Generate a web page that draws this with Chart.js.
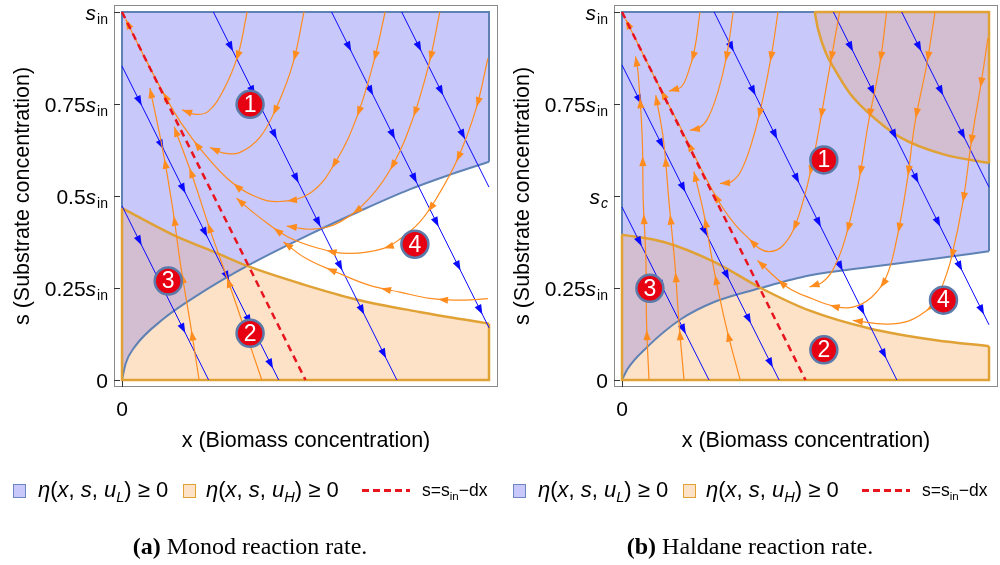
<!DOCTYPE html>
<html lang="en">
<head>
<meta charset="UTF-8">
<title>Operating regions: Monod and Haldane reaction rates</title>
<script src="https://cdn.jsdelivr.net/npm/chart.js"></script>
<style>
  body { margin: 0; background: #fff; }
  .page { position: relative; width: 1000px; height: 565px; font-family: "Liberation Sans", Arial, sans-serif; color: #000; }
  canvas { position: absolute; top: 0; }
  .legend { position: absolute; top: 0; width: 500px; height: 565px; }
  .legend span { position: absolute; white-space: nowrap; }
  .sw { top: 484px; width: 11px; height: 12px; }
  .sw.blue { background: #c8c8fa; border: 1px solid #6f86c4; }
  .sw.orange { background: #fde2c8; border: 1px solid #e0a135; }
  .lt { top: 477px; font-size: 22px; line-height: 25px; }
  .dash { top: 489px; left: 362px; width: 48px; height: 2.5px;
          background: repeating-linear-gradient(90deg, #e8141e 0 7px, transparent 7px 11px); }
  .ft { top: 480px; left: 422px; font-size: 17.5px; line-height: 20px; }
  sub { font-size: 0.66em; vertical-align: -0.32em; line-height: 0; }
  .cap { position: absolute; top: 533px; width: 500px; text-align: center;
         font: 24px "Liberation Serif", "Times New Roman", serif; }
</style>
</head>
<body>
<div class="page">
  <canvas id="monod" width="500" height="465" style="left:0"></canvas>
  <canvas id="haldane" width="500" height="465" style="left:500px"></canvas>

  <div class="legend" style="left:0">
    <span class="sw blue" style="left:13px"></span>
    <span class="lt" style="left:38px"><i>η</i>(<i>x</i>, <i>s</i>, <i>u</i><sub><i>L</i></sub>) ≥ 0</span>
    <span class="sw orange" style="left:183px"></span>
    <span class="lt" style="left:206px"><i>η</i>(<i>x</i>, <i>s</i>, <i>u</i><sub><i>H</i></sub>) ≥ 0</span>
    <span class="dash"></span>
    <span class="ft">s=s<sub>in</sub>−dx</span>
  </div>
  <div class="legend" style="left:500px">
    <span class="sw blue" style="left:13px"></span>
    <span class="lt" style="left:38px"><i>η</i>(<i>x</i>, <i>s</i>, <i>u</i><sub><i>L</i></sub>) ≥ 0</span>
    <span class="sw orange" style="left:183px"></span>
    <span class="lt" style="left:206px"><i>η</i>(<i>x</i>, <i>s</i>, <i>u</i><sub><i>H</i></sub>) ≥ 0</span>
    <span class="dash"></span>
    <span class="ft">s=s<sub>in</sub>−dx</span>
  </div>

  <div class="cap" style="left:0"><b>(a)</b> Monod reaction rate.</div>
  <div class="cap" style="left:500px"><b>(b)</b> Haldane reaction rate.</div>
</div>

<script>
    // s axis, in units of s_in
    var sTicks = [0, 0.25, 0.5, 0.75, 1];
    var xTicks = [0];
    var monodTickText = [['0', '', ''], ['0.25', 's', 'in'], ['0.5', 's', 'in'], ['0.75', 's', 'in'], ['', 's', 'in']];
    var haldaneTickText = [['0', '', ''], ['0.25', 's', 'in'], ['', 's', 'c'], ['0.75', 's', 'in'], ['', 's', 'in']];

    // s = s_in - d x  (d = 2 in these units)
    var feedLine = [[0, 1], [0.5, 0]];

    // ---------- Monod ----------
    var monodBlueEdge = [[0, 0], [0.01, 0.045], [0.033, 0.088], [0.114, 0.167], [0.205, 0.23], [0.341, 0.31],
        [0.51, 0.395], [0.65, 0.46], [0.784, 0.518], [0.9, 0.56], [1, 0.593]];
    var monodOrangeEdge = [[0, 0.467], [0.142, 0.393], [0.251, 0.348], [0.341, 0.31], [0.493, 0.26],
        [0.638, 0.219], [0.811, 0.185], [1, 0.153]];
    var monodBlueFrame = [[[1, 0.593], [1, 1], [0, 1], [0, 0.467]]];
    var monodOrangeFrame = [[[0, 0.467], [0, 0], [1, 0], [1, 0.153]]];

    var monodBlueLines = [
        [[0, 0.473], [0.236, 0]],
        [[0, 0.853], [0.427, 0]],
        [[0.249, 1], [0.749, 0]],
        [[0.571, 1], [1, 0.142]],
        [[0.762, 1], [1, 0.524]]
    ];
    var monodOrangePaths = [
        [[0.341, 1], [0.315, 0.88], [0.275, 0.785], [0.235, 0.73], [0.2, 0.722], [0.164, 0.734]],
        [[0.496, 1], [0.466, 0.861], [0.425, 0.75], [0.376, 0.66], [0.32, 0.618], [0.275, 0.617], [0.24, 0.632]],
        [[0.717, 1], [0.685, 0.861], [0.64, 0.715], [0.585, 0.598], [0.517, 0.511], [0.43, 0.485], [0.36, 0.5],
            [0.29, 0.545], [0.22, 0.62], [0.16, 0.7], [0.11, 0.785], [0.06, 0.88], [0.01, 0.98]],
        [[0.866, 1], [0.836, 0.857], [0.793, 0.712], [0.738, 0.584], [0.675, 0.495], [0.593, 0.429],
            [0.52, 0.41], [0.449, 0.418]],
        [[0.997, 0.874], [0.965, 0.738], [0.915, 0.602], [0.857, 0.494], [0.811, 0.429], [0.76, 0.385],
            [0.711, 0.357], [0.62, 0.344], [0.535, 0.358], [0.45, 0.39], [0.372, 0.444], [0.312, 0.494]],
        [[0.997, 0.221], [0.929, 0.217], [0.838, 0.222], [0.757, 0.239], [0.675, 0.257], [0.584, 0.293],
            [0.502, 0.33], [0.44, 0.375]],
        [[0.21, 0], [0.187, 0.148], [0.16, 0.31], [0.137, 0.474], [0.11, 0.63], [0.076, 0.793]],
        [[0.381, 0], [0.33, 0.15], [0.29, 0.267], [0.24, 0.408], [0.192, 0.553], [0.142, 0.688]]
    ];
    var monodTags = [[0.349, 0.749, '1'], [0.349, 0.127, '2'], [0.126, 0.269, '3'], [0.798, 0.369, '4']];

    // ---------- Haldane ----------
    var haldaneBlueEdge = [[0, 0], [0.015, 0.03], [0.069, 0.09], [0.16, 0.165], [0.251, 0.212], [0.378, 0.25],
        [0.51, 0.284], [0.675, 0.307], [0.856, 0.33], [1, 0.35]];
    var haldaneOrangeEdge = [[0, 0.395], [0.114, 0.375], [0.251, 0.321], [0.378, 0.25], [0.51, 0.189],
        [0.675, 0.14], [0.856, 0.108], [1, 0.092]];
    var haldaneTopEdge = [[0.525, 1], [0.535, 0.95], [0.555, 0.89], [0.576, 0.85], [0.62, 0.78], [0.667, 0.73],
        [0.757, 0.66], [0.876, 0.613], [1, 0.59]];
    var haldaneBlueFrame = [[[1, 0.35], [1, 0.59]], [[0.525, 1], [0, 1], [0, 0.395]]];
    var haldaneOrangeFrame = [[[0, 0.395], [0, 0], [1, 0], [1, 0.092]], [[0.525, 1], [1, 1], [1, 0.59]]];

    var haldaneBlueLines = [
        [[0, 0.47], [0.237, 0]],
        [[0, 0.856], [0.428, 0]],
        [[0.251, 1], [0.749, 0]],
        [[0.576, 1], [1, 0.15]],
        [[0.762, 1], [1, 0.524]]
    ];
    var haldaneOrangePaths = [
        [[0.2125, 1], [0.198, 0.9], [0.18, 0.835], [0.16, 0.795], [0.128, 0.785]],
        [[0.303, 1], [0.285, 0.88], [0.262, 0.785], [0.234, 0.711], [0.21, 0.684], [0.185, 0.679]],
        [[0.425, 1], [0.41, 0.9], [0.385, 0.77], [0.355, 0.65], [0.323, 0.566], [0.295, 0.537], [0.267, 0.534]],
        [[0.593, 1], [0.575, 0.9], [0.552, 0.77], [0.525, 0.62], [0.5, 0.51], [0.467, 0.408], [0.435, 0.362],
            [0.403, 0.349], [0.375, 0.357], [0.345, 0.385], [0.31, 0.42], [0.27, 0.475], [0.22, 0.565],
            [0.16, 0.685], [0.1, 0.8], [0.05, 0.9], [0.01, 0.98]],
        [[0.721, 1], [0.703, 0.861], [0.671, 0.697], [0.644, 0.534], [0.607, 0.38], [0.575, 0.3],
            [0.545, 0.265], [0.511, 0.253]],
        [[0.853, 1], [0.83, 0.856], [0.798, 0.697], [0.776, 0.534], [0.747, 0.375], [0.72, 0.28],
            [0.68, 0.225], [0.629, 0.198], [0.58, 0.2], [0.52, 0.22], [0.45, 0.253], [0.369, 0.325]],
        [[0.997, 0.929], [0.979, 0.81], [0.952, 0.648], [0.929, 0.484], [0.897, 0.33], [0.875, 0.262],
            [0.855, 0.215], [0.825, 0.185], [0.78, 0.16], [0.72, 0.152], [0.629, 0.162]],
        [[0.0736, 0], [0.067, 0.153], [0.065, 0.33], [0.058, 0.484], [0.055, 0.661], [0.044, 0.833], [0.037, 0.879]],
        [[0.169, 0], [0.155, 0.16], [0.144, 0.316], [0.128, 0.484], [0.113, 0.652], [0.092, 0.774]],
        [[0.322, 0], [0.285, 0.14], [0.251, 0.298], [0.223, 0.452], [0.196, 0.566]]
    ];
    var haldaneTags = [[0.55, 0.598, '1'], [0.55, 0.082, '2'], [0.076, 0.249, '3'], [0.876, 0.217, '4']];

    // colours
    var BLUE_FILL = '#c8c8fa', ORANGE_FILL = '#fde2c8', BOTH_FILL = '#d3bdd0';
    var BLUE_EDGE = '#5f82b4', ORANGE_EDGE = '#e0a135';
    var TRAJ_BLUE = '#0a0aff', TRAJ_ORANGE = '#ff8c1e', FEED_RED = '#e8141e';
    var FONT = '"Liberation Sans", Arial, sans-serif';

    function xy(list) {
        return list.map(function (p) { return { x: p[0], y: p[1] }; });
    }

    // sample the drawn curve (bezier segments when the line is smoothed)
    function tracePath(els, smooth) {
        var out = [[els[0].x, els[0].y]];
        for (var i = 1; i < els.length; i++) {
            var a = els[i - 1], b = els[i];
            if (!smooth || a.cp2x === undefined || b.cp1x === undefined) { out.push([b.x, b.y]); continue; }
            for (var k = 1; k <= 12; k++) {
                var t = k / 12, u = 1 - t;
                out.push([u * u * u * a.x + 3 * u * u * t * a.cp2x + 3 * u * t * t * b.cp1x + t * t * t * b.x,
                          u * u * u * a.y + 3 * u * u * t * a.cp2y + 3 * u * t * t * b.cp1y + t * t * t * b.y]);
            }
        }
        return out;
    }

    function arrowHead(ctx, x, y, ux, uy, color) {
        var L = 10, W = 3.6;
        var bx = x - ux * L, by = y - uy * L;
        ctx.beginPath();
        ctx.moveTo(x, y);
        ctx.lineTo(bx - uy * W, by + ux * W);
        ctx.lineTo(bx + uy * W, by - ux * W);
        ctx.closePath();
        ctx.fillStyle = color;
        ctx.fill();
    }

    function drawArrows(chart, meta, ds) {
        var path = tracePath(meta.data, ds.tension > 0);
        var lens = [], total = 0;
        for (var i = 1; i < path.length; i++) {
            var l = Math.hypot(path[i][0] - path[i - 1][0], path[i][1] - path[i - 1][1]);
            lens.push(l);
            total += l;
        }
        var marks = [];
        var stop = ds.arrowEnd ? total - 28 : total - 6;
        for (var d = ds.arrowFirst; d < stop; d += ds.arrowGap) marks.push(d);
        if (ds.arrowEnd) marks.push(total);

        var ctx = chart.ctx, a = chart.chartArea;
        ctx.save();
        ctx.beginPath();
        ctx.rect(a.left, a.top, a.right - a.left, a.bottom - a.top);
        ctx.clip();
        marks.forEach(function (m) {
            var acc = 0;
            for (var j = 0; j < lens.length; j++) {
                if (acc + lens[j] >= m - 1e-6 && lens[j] > 0) {
                    var f = (m - acc) / lens[j];
                    var p0 = path[j], p1 = path[j + 1];
                    var ux = (p1[0] - p0[0]) / lens[j], uy = (p1[1] - p0[1]) / lens[j];
                    arrowHead(ctx, p0[0] + (p1[0] - p0[0]) * f, p0[1] + (p1[1] - p0[1]) * f, ux, uy, ds.borderColor);
                    break;
                }
                acc += lens[j];
            }
        });
        ctx.restore();
    }

    // s tick label: number, italic symbol, small subscript
    function tickLabel(ctx, parts, right, y) {
        var big = '21px ' + FONT, ital = 'italic 21px ' + FONT;
        var small = (parts[2] === 'c' ? 'italic ' : '') + '14px ' + FONT;
        ctx.font = big; var w0 = ctx.measureText(parts[0]).width;
        ctx.font = ital; var w1 = parts[1] ? ctx.measureText(parts[1]).width + 1 : 0;
        ctx.font = small; var w2 = parts[2] ? ctx.measureText(parts[2]).width : 0;
        var x = right - w0 - w1 - w2;
        ctx.textAlign = 'left';
        ctx.textBaseline = 'alphabetic';
        ctx.font = big; ctx.fillText(parts[0], x, y + 8);
        if (parts[1]) { ctx.font = ital; ctx.fillText(parts[1], x + w0, y + 8); }
        if (parts[2]) { ctx.font = small; ctx.fillText(parts[2], x + w0 + w1, y + 12); }
    }

    function makeDecor(tickText, tags) {
        return {
            id: 'decor',
            afterDatasetDraw: function (chart, args) {
                var ds = chart.data.datasets[args.index];
                if (ds.arrowGap) drawArrows(chart, args.meta, ds);
            },
            afterDraw: function (chart) {
                var ctx = chart.ctx, a = chart.chartArea;
                var xs = chart.scales.x, ys = chart.scales.y;
                ctx.save();
                // frame
                ctx.strokeStyle = '#8a8a8a';
                ctx.lineWidth = 1;
                ctx.strokeRect(a.left + 0.5, a.top + 0.5, a.right - a.left - 1, a.bottom - a.top - 1);
                // ticks
                ctx.strokeStyle = '#333';
                ctx.beginPath();
                sTicks.forEach(function (v) {
                    var py = Math.round(ys.getPixelForValue(v)) + 0.5;
                    ctx.moveTo(a.left, py);
                    ctx.lineTo(a.left + 6, py);
                });
                xTicks.forEach(function (v) {
                    var px = Math.round(xs.getPixelForValue(v)) + 0.5;
                    ctx.moveTo(px, a.bottom);
                    ctx.lineTo(px, a.bottom - 6);
                });
                ctx.stroke();

                ctx.fillStyle = '#000';
                sTicks.forEach(function (v, i) {
                    tickLabel(ctx, tickText[i], a.left - 6, ys.getPixelForValue(v));
                });
                ctx.font = '21px ' + FONT;
                ctx.textAlign = 'center';
                ctx.textBaseline = 'alphabetic';
                xTicks.forEach(function (v) {
                    ctx.fillText(String(v), xs.getPixelForValue(v), 416);
                });

                // axis titles
                ctx.font = '21.5px ' + FONT;
                ctx.textBaseline = 'middle';
                ctx.fillText('x (Biomass concentration)', (a.left + a.right) / 2, 441);
                ctx.save();
                ctx.translate(23, (a.top + a.bottom) / 2);
                ctx.rotate(-Math.PI / 2);
                ctx.fillText('s (Substrate concentration)', 0, 0);
                ctx.restore();

                // region numbers
                var meta = chart.getDatasetMeta(chart.data.datasets.length - 1);
                ctx.fillStyle = '#fff';
                ctx.font = '23px ' + FONT;
                meta.data.forEach(function (pt, i) {
                    ctx.fillText(tags[i][2], pt.x, pt.y + 1);
                });
                ctx.restore();
            }
        };
    }

    function buildPanel(canvasId, p) {
        var ds = [];
        // regions: blue above its boundary, orange below its boundary, overlap where both hold
        ds.push({ data: xy(p.blueEdge), fill: { value: 1 }, backgroundColor: BLUE_FILL, borderWidth: 0,
            cubicInterpolationMode: 'monotone', order: 40 });
        ds.push({ data: xy(p.orangeEdge), fill: { value: 0 }, backgroundColor: ORANGE_FILL, borderWidth: 0,
            cubicInterpolationMode: 'monotone', order: 39 });
        ds.push({ data: xy(p.orangeEdge), fill: { target: 0, above: BOTH_FILL, below: 'rgba(0,0,0,0)' },
            borderWidth: 0, cubicInterpolationMode: 'monotone', order: 38 });
        if (p.topEdge) {
            ds.push({ data: xy(p.topEdge), fill: { value: 1 }, backgroundColor: BOTH_FILL, borderWidth: 0,
                cubicInterpolationMode: 'monotone', order: 37 });
        }

        // region borders
        p.blueFrame.forEach(function (f) {
            ds.push({ data: xy(f), borderColor: BLUE_EDGE, borderWidth: 2, order: 31 });
        });
        ds.push({ data: xy(p.blueEdge), borderColor: BLUE_EDGE, borderWidth: 2,
            cubicInterpolationMode: 'monotone', order: 30 });
        p.orangeFrame.forEach(function (f) {
            ds.push({ data: xy(f), borderColor: ORANGE_EDGE, borderWidth: 2.5, order: 29 });
        });
        ds.push({ data: xy(p.orangeEdge), borderColor: ORANGE_EDGE, borderWidth: 2.5,
            cubicInterpolationMode: 'monotone', order: 28 });
        if (p.topEdge) {
            ds.push({ data: xy(p.topEdge), borderColor: ORANGE_EDGE, borderWidth: 2.5,
                cubicInterpolationMode: 'monotone', order: 27 });
        }

        // trajectories
        p.blueLines.forEach(function (l) {
            ds.push({ data: xy(l), borderColor: TRAJ_BLUE, borderWidth: 1, order: 20,
                arrowGap: 49, arrowFirst: 44 });
        });
        p.orangePaths.forEach(function (l) {
            ds.push({ data: xy(l), borderColor: TRAJ_ORANGE, borderWidth: 1.2, tension: 0.4, order: 19,
                arrowGap: 58, arrowFirst: 50, arrowEnd: true });
        });

        ds.push({ data: xy(feedLine), borderColor: FEED_RED, borderWidth: 2.5, borderDash: [7, 5], order: 10 });

        // numbered markers, kept last
        ds.push({ data: xy(p.tags), showLine: false, pointRadius: 13.5, pointBackgroundColor: '#e60012',
            pointBorderColor: '#5b7aa9', pointBorderWidth: 2.5, order: 1 });

        return new Chart(document.getElementById(canvasId).getContext('2d'), {
            type: 'line',
            data: { datasets: ds },
            options: {
                responsive: false,
                animation: false,
                devicePixelRatio: 1,
                events: [],
                layout: { autoPadding: false, padding: { left: 114, right: 2, top: 5, bottom: 78 } },
                elements: { point: { radius: 0 } },
                plugins: { legend: { display: false }, tooltip: { enabled: false } },
                scales: {
                    x: { type: 'linear', min: -0.0218, max: 1.0245, display: false },
                    y: { type: 'linear', min: -0.019, max: 1.019, display: false }
                }
            },
            plugins: [makeDecor(p.tickText, p.tags)]
        });
    }

    var graficoMonod = buildPanel('monod', {
        blueEdge: monodBlueEdge, orangeEdge: monodOrangeEdge,
        blueFrame: monodBlueFrame, orangeFrame: monodOrangeFrame,
        blueLines: monodBlueLines, orangePaths: monodOrangePaths,
        tags: monodTags, tickText: monodTickText
    });

    var graficoHaldane = buildPanel('haldane', {
        blueEdge: haldaneBlueEdge, orangeEdge: haldaneOrangeEdge, topEdge: haldaneTopEdge,
        blueFrame: haldaneBlueFrame, orangeFrame: haldaneOrangeFrame,
        blueLines: haldaneBlueLines, orangePaths: haldaneOrangePaths,
        tags: haldaneTags, tickText: haldaneTickText
    });
</script>
</body>
</html>
